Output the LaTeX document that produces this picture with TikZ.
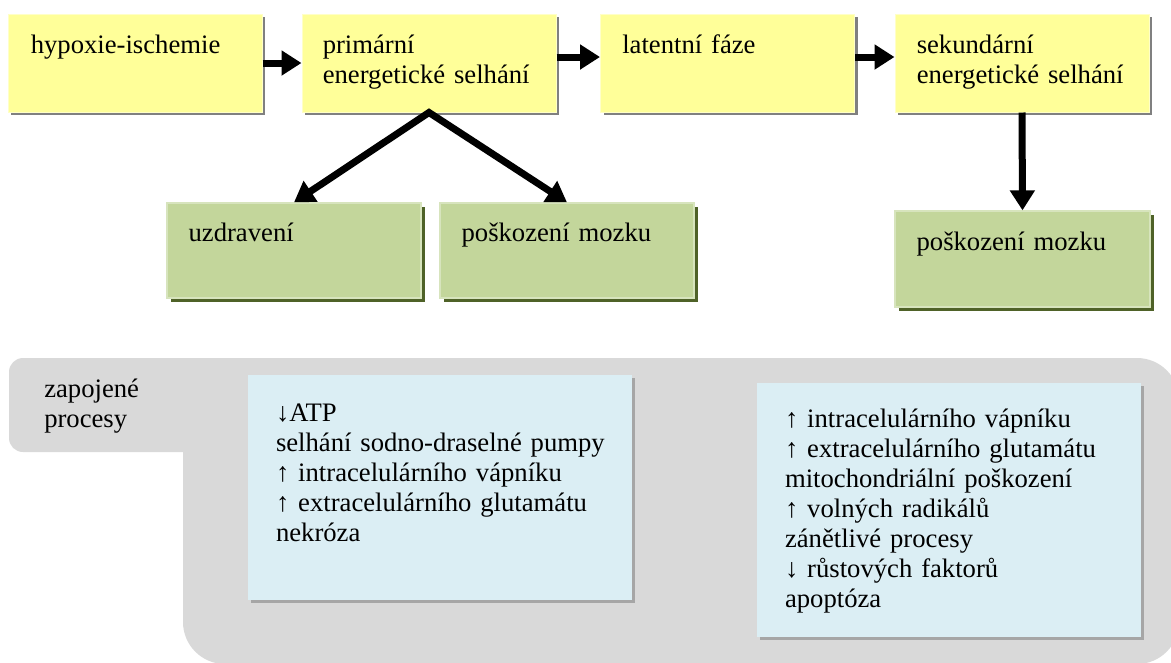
\documentclass[tikz,border=0pt]{standalone}
\usepackage{fontspec}
\setmainfont{Liberation Serif}
\usetikzlibrary{arrows.meta,shadows}
\definecolor{ylw}{HTML}{FFFF99}
\definecolor{ylwline}{HTML}{FFFFC8}
\definecolor{ylwsh}{HTML}{808080}
\definecolor{grn}{HTML}{C3D69B}
\definecolor{grnline}{HTML}{D7E4BD}
\definecolor{grnsh}{HTML}{4F6228}
\definecolor{blu}{HTML}{DBEEF4}
\definecolor{blush}{HTML}{A6A6A6}
\definecolor{bggray}{HTML}{D9D9D9}
\newcommand{\pxu}{*0.75pt}
\begin{document}
\begin{tikzpicture}[x=0.75pt,y=-0.75pt,
  ybox/.style={rectangle, fill=ylw, draw=ylwline, line width=0.75pt, inner sep=0,
    minimum width=254\pxu, minimum height=98\pxu,
    drop shadow={shadow xshift=3\pxu, shadow yshift=-3\pxu, fill=ylwsh, opacity=1}},
  gbox/.style={rectangle, fill=grn, draw=grnline, line width=1pt, inner sep=0,
    minimum width=254\pxu, minimum height=95\pxu,
    drop shadow={shadow xshift=4\pxu, shadow yshift=-4\pxu, fill=grnsh, opacity=1}},
  bbox/.style={rectangle, fill=blu, inner sep=0, minimum width=384\pxu,
    drop shadow={shadow xshift=3\pxu, shadow yshift=-3\pxu, fill=blush, opacity=1}},
  lbl/.style={anchor=base west, inner sep=0, text width=#1, align=left,
    font=\fontsize{20}{22.5}\selectfont},
  lbl/.default=190pt,
  arr/.style={line width=5.25pt, -{Triangle[length=15pt,width=18pt]}},
]
\useasboundingbox (0,0) rectangle (1171,662);
% background
\fill[bggray, rounded corners=14\pxu] (9,358) rectangle (320,452);
\fill[bggray, rounded corners=42\pxu] (183,358) rectangle (1179,664);

% yellow boxes
\node[ybox] (b1) at (135,63) {};
\node[ybox] (b2) at (429,63) {};
\node[ybox] (b3) at (727.5,63) {};
\node[ybox] (b4) at (1022,63) {};
\node[lbl] (t1) at ([xshift=23\pxu, yshift=-40\pxu]b1.north west) {hypoxie-ischemie};
\node[lbl] (t2) at ([xshift=21\pxu, yshift=-40\pxu]b2.north west) {primární\\energetické selhání};
\node[lbl] (t3) at ([xshift=22\pxu, yshift=-40\pxu]b3.north west) {latentní fáze};
\node[lbl] (t4) at ([xshift=22\pxu, yshift=-40\pxu]b4.north west) {sekundární\\energetické selhání};

% green boxes
\node[gbox] (g1) at (294,250.5) {};
\node[gbox] (g2) at (567,250.5) {};
\node[gbox, minimum width=255\pxu, minimum height=96\pxu] (g3) at (1022.5,259) {};
\node[lbl] (u1) at ([xshift=22\pxu, yshift=-39\pxu]g1.north west) {uzdravení};
\node[lbl] (u2) at ([xshift=22\pxu, yshift=-39\pxu]g2.north west) {poškození mozku};
\node[lbl] (u3) at ([xshift=22\pxu, yshift=-40\pxu]g3.north west) {poškození mozku};

% arrows
\draw[arr] (b1.east) -- (b2.west);
\draw[arr] ([yshift=4.5pt]b2.east) -- ([yshift=4.5pt]b3.west);
\draw[arr] ([yshift=4.5pt]b3.east) -- ([yshift=4.5pt]b4.west);
\draw[arr] (b4.south) -- (g3.north);
\draw[line width=5.25pt, line join=miter,
  {Triangle[length=15pt,width=18pt]}-{Triangle[length=15pt,width=18pt]}]
  (g1.north) -- (b2.south) -- (g2.north);

% processes
\node[lbl=130\pxu] (zp) at (44,397) {zapojené\\procesy};
\node[bbox, minimum height=225\pxu] (p1) at (440,487.5) {};
\node[bbox, minimum height=254\pxu] (p2) at (949,510) {};
\node[lbl=350\pxu] (pt1) at ([xshift=28\pxu, yshift=-47\pxu]p1.north west)
  {↓ATP\\selhání sodno-draselné pumpy\\↑ intracelulárního vápníku\\↑ extracelulárního glutamátu\\nekróza};
\node[lbl=350\pxu] (pt2) at ([xshift=28\pxu, yshift=-45\pxu]p2.north west)
  {↑ intracelulárního vápníku\\↑ extracelulárního glutamátu\\mitochondriální poškození\\↑ volných radikálů\\zánětlivé procesy\\↓ růstových faktorů\\apoptóza};
\end{tikzpicture}
\end{document}
